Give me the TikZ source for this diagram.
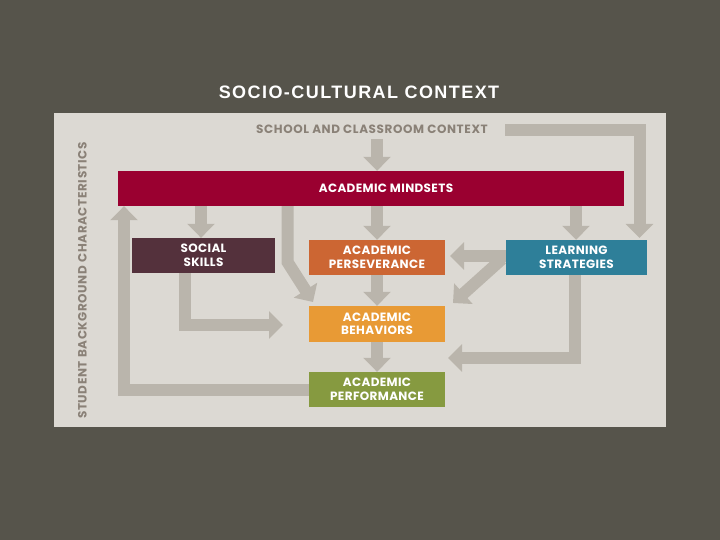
\documentclass[tikz,border=0pt]{standalone}
\usepackage{fontspec}
\usetikzlibrary{arrows.meta}
\newfontfamily\titlefont{Liberation Sans}[LetterSpace=8]
\newfontfamily\boxfont{Poppins}[LetterSpace=3]
\newfontfamily\ctxfont{Poppins}[LetterSpace=5]
\definecolor{bgdark}{HTML}{56544B}
\definecolor{panel}{HTML}{DCD9D3}
\definecolor{arrowgray}{HTML}{BAB5AC}
\definecolor{labelgray}{HTML}{8A8177}
\definecolor{mindred}{HTML}{9A0030}
\definecolor{socialplum}{HTML}{54313C}
\definecolor{perseorange}{HTML}{CC6633}
\definecolor{learnblue}{HTML}{2E7F99}
\definecolor{behavorange}{HTML}{E89A35}
\definecolor{perfgreen}{HTML}{869A40}
\begin{document}
\begin{tikzpicture}[x=1pt,y=-1pt,
  box/.style={minimum width=136pt, minimum height=35pt, inner sep=0pt, text=white,
    font=\boxfont\bfseries\fontsize{12}{13.5}\selectfont, align=center},
  ctxlabel/.style={text=labelgray, inner sep=0pt, font=\ctxfont\bfseries\fontsize{12}{13}\selectfont},
  flow/.style={draw=arrowgray, line width=12pt, line join=miter,
    -{Triangle[width=27pt,length=14pt]}}]
\fill[bgdark] (0,0) rectangle (720,540);
\useasboundingbox (0,0) rectangle (720,540);
\fill[panel] (54,113) rectangle (666,427);
% titles
\node[text=white, inner sep=0pt, font=\titlefont\bfseries\fontsize{18}{20}\selectfont] (title) at (359,92) {SOCIO-CULTURAL CONTEXT};
\node[ctxlabel] (school) at (372,129) {SCHOOL AND CLASSROOM CONTEXT};
\node[ctxlabel, rotate=90] (student) at (82.5,280.5) {STUDENT BACKGROUND CHARACTERISTICS};
% boxes
\node[box, fill=mindred, minimum width=506pt] (ms) at (371,188.5) {\hspace*{30pt}ACADEMIC MINDSETS};
\node[box, fill=socialplum, minimum width=143pt] (ss) at (203.5,255.5) {SOCIAL\\SKILLS};
\node[box, fill=perseorange] (ap) at (377,257.5) {ACADEMIC\\PERSEVERANCE};
\node[box, fill=learnblue, minimum width=141pt] (ls) at (576.5,257.5) {LEARNING\\STRATEGIES};
\node[box, fill=behavorange, minimum height=36pt] (ab) at (377,324) {ACADEMIC\\BEHAVIORS};
\node[box, fill=perfgreen] (perf) at (377,389.5) {ACADEMIC\\PERFORMANCE};
% columns and rows
\coordinate (cSS) at (201,0);
\coordinate (cMid) at (377,0);
\coordinate (cLS) at (576,0);
\coordinate (cBend) at (287.5,0);
\coordinate (cSSd) at (185,0);
\coordinate (cLSd) at (575,0);
\coordinate (cLoop) at (124,0);
\coordinate (schoolS) at (377,139);
\coordinate (schoolE) at (505,130.5);
\coordinate (lsTip) at (639.5,238);
\coordinate (bendKnee) at (287.5,262);
\coordinate (abNW) at (313,302);
\coordinate (lsW1) at (506,256);
\coordinate (apTip) at (450,256);
\coordinate (lsW2) at (502,259);
\coordinate (abNE) at (453,303);
\coordinate (abW) at (283,325);
\coordinate (perfE) at (448,358);
% connectors
\draw[flow] (schoolS) -- (schoolS |- ms.north);
\draw[flow] (schoolE) -| (lsTip);
\draw[flow] (ms.south -| cSS) -- (ss.north -| cSS);
\draw[flow] (ms.south -| cMid) -- (ap.north);
\draw[flow] (ms.south -| cLS) -- (ls.north -| cLS);
\draw[flow] (ms.south -| cBend) -- (bendKnee) -- (abNW);
\draw[flow] (lsW1) -- (apTip);
\draw[flow] (lsW2) -- (abNE);
\draw[flow] (ss.south -| cSSd) |- (abW);
\draw[flow] (ap.south) -- (ab.north);
\draw[flow] (ab.south) -- (perf.north);
\draw[flow] (ls.south -| cLSd) |- (perfE);
\draw[flow] (perf.west) -| (ms.south -| cLoop);
\end{tikzpicture}
\end{document}
